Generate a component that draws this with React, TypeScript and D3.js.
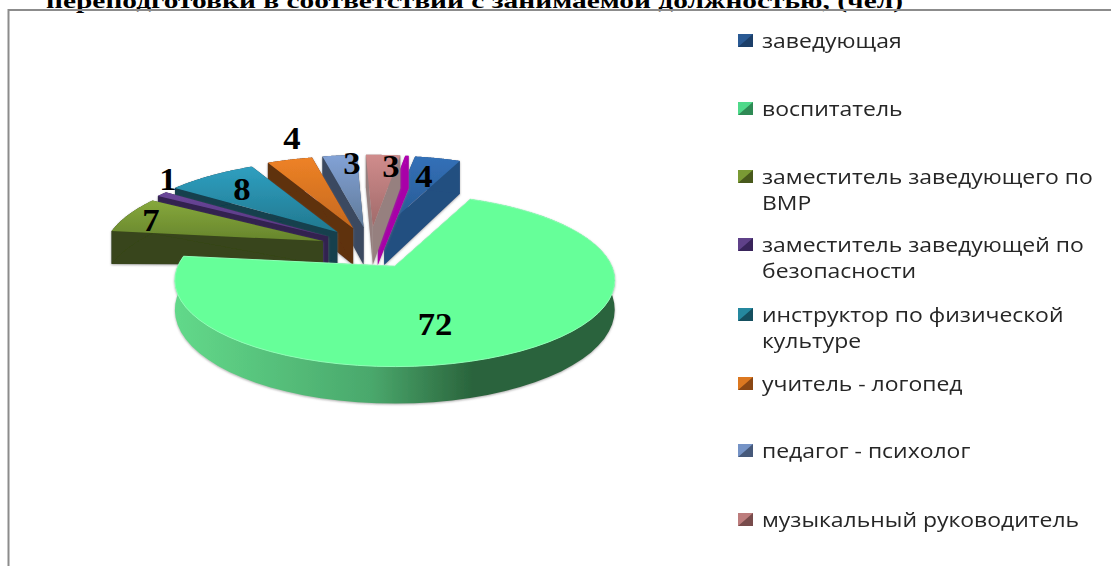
import React from "react";
import * as d3 from "d3";

const categories = [
  "заведующая",
  "воспитатель",
  "заместитель заведующего по|ВМР",
  "заместитель заведующей по|безопасности",
  "инструктор по физической|культуре",
  "учитель - логопед",
  "педагог - психолог",
  "музыкальный руководитель",
];
// last value is the thin magenta slice that has no legend entry
const values = [4, 72, 7, 1, 8, 4, 3, 3, 0.3];
const labels = ["4", "72", "7", "1", "8", "4", "3", "3"];
const topLight = ["#3270b8", "#66ff99", "#86a83c", "#6a4699", "#2f9fc0", "#ee8226", "#82a2d6", "#d08c8c", "#b000b0"];
const topDark = ["#28598f", "#66ff99", "#67852c", "#56377f", "#21788f", "#c4681e", "#607a99", "#a06a6a", "#a000a0"];
const wallColors = ["#234f80", "#2a643c", "#37451a", "#32204f", "#123f4e", "#5f3010", "#3b4a60", "#96807f", "#a800a8"];
const legendColors = ["#2a5a94", "#4fd98a", "#7a9a34", "#5f4189", "#25889f", "#dc7820", "#7593c6", "#bd7d7d"];
const legendDark = ["#1c3f69", "#2f8a55", "#48591c", "#38245a", "#154f5f", "#8a4714", "#46597a", "#784c4c"];
const legendY = [41, 109, 177, 245, 315, 384, 451, 520];
const labelPos = [
  [424, 187], [435, 335], [151, 231], [168, 190], [242, 200], [292, 149], [352, 174], [391, 177],
];
const drawOrder = [0, 8, 7, 6, 5, 4, 3, 2, 1];

const W = 1111;
const H = 566;
const RX = 217;
const RY = 84;
const PERSP = 0.163;
const START = (9.5 * Math.PI) / 180;

const pieData = d3
  .pie<number>()
  .sort(null)
  .startAngle(START)
  .endAngle(START + Math.PI * 2)(values);

const project = (a: number) => {
  const w = 1 + PERSP * Math.cos(a);
  return [(RX * Math.sin(a)) / w, (-RY * Math.cos(a)) / w];
};

function Slice({ d, i }: { d: d3.PieArcDatum<number>; i: number }) {
  const mid = (d.startAngle + d.endAngle) / 2;
  const ax = 370 + 50 * Math.sin(mid);
  const ay = 248 - 21 * Math.cos(mid);
  const isFront = i === 1;
  const floor = isFront ? ay + 30 : 265;
  const wallH = (a: number) => (isFront ? 28 + 9 * Math.max(0, -Math.cos(a)) : 33);
  const angles = d3.range(0, 61).map((k) => d.startAngle + ((d.endAngle - d.startAngle) * k) / 60);
  const rim = angles.map((a) => {
    const [x, y] = project(a);
    return [ax + x, ay + y, wallH(a)];
  });
  const line = d3.line();
  const top = line([[ax, ay], ...rim.map((p) => [p[0], p[1]] as [number, number])]) + "Z";
  const first = rim[0];
  const last = rim[rim.length - 1];
  const wallA = line([[ax, ay], [first[0], first[1]], [first[0], first[1] + first[2]], [ax, floor]]) + "Z";
  const wallB = line([[ax, ay], [last[0], last[1]], [last[0], last[1] + last[2]], [ax, floor]]) + "Z";
  const outer =
    line([
      ...rim.map((p) => [p[0], p[1]] as [number, number]),
      ...rim.slice().reverse().map((p) => [p[0], p[1] + p[2]] as [number, number]),
    ]) + "Z";
  return (
    <g filter="url(#soft)">
      <path d={wallA} fill={wallColors[i]} />
      <path d={wallB} fill={wallColors[i]} />
      <path d={outer} fill={isFront ? "url(#greenWall)" : wallColors[i]} />
      <path d={top} fill={isFront ? topLight[i] : `url(#top${i})`} stroke={isFront ? "#8dffb5" : "none"} strokeWidth={isFront ? 1 : 0} />
    </g>
  );
}

export default function App() {
  return (
    <svg
      width={W}
      height={H}
      viewBox={`0 0 ${W} ${H}`}
      style={{ position: "absolute", left: 0, top: 0, background: "#fff" }}
    >
      <defs>
        <linearGradient id="greenWall" gradientUnits="userSpaceOnUse" x1="175" x2="612" y1="0" y2="0">
          <stop offset="0" stopColor="#62d98a" />
          <stop offset="0.45" stopColor="#4aa86c" />
          <stop offset="0.68" stopColor="#2a643c" />
          <stop offset="1" stopColor="#2a643c" />
        </linearGradient>
        {values.map((_, i) => (
          <linearGradient key={i} id={`top${i}`} x1="0" x2="0" y1="0" y2="1">
            <stop offset="0" stopColor={topLight[i]} />
            <stop offset="1" stopColor={topDark[i]} />
          </linearGradient>
        ))}
        <filter id="soft" x="-10%" y="-10%" width="120%" height="130%">
          <feDropShadow dx="0" dy="1" stdDeviation="1.2" floodColor="#777" floodOpacity="0.6" />
        </filter>
        <filter id="blurText" x="-2%" y="-20%" width="104%" height="140%">
          <feGaussianBlur stdDeviation="0.45" />
        </filter>
      </defs>

      <text x={46} y={8} fontFamily="Liberation Serif" fontWeight="bold" fontSize={22} textLength={857} lengthAdjust="spacingAndGlyphs">
        переподготовки в соответствии с занимаемой должностью, (чел)
      </text>
      <path d={`M1111,10H8.5V566`} fill="none" stroke="#8c8c8c" strokeWidth={2} />

      {drawOrder.map((s) => (
        <Slice key={s} d={pieData[s]} i={s} />
      ))}

      {labelPos.map((p, i) => (
        <text
          key={i}
          transform={`translate(${p[0]},${p[1]}) scale(1.12,1)`}
          textAnchor="middle"
          fontFamily="Liberation Serif"
          fontWeight="bold"
          fontSize={31}
          fill="#000"
        >
          {labels[i]}
        </text>
      ))}

      {categories.map((c, i) => {
        const parts = c.split("|");
        const y0 = legendY[i] - 7;
        return (
          <g key={c}>
            <rect x={738} y={y0} width={15} height={13} fill={legendColors[i]} />
            <path
              d={d3.line()([[753, y0], [753, y0 + 13], [738, y0 + 13], [745, y0 + 7]]) + "Z"}
              fill={legendDark[i]}
            />
            {parts.map((t, j) => (
              <text
                key={t}
                transform={`translate(762,${legendY[i] + 7 + j * 26}) scale(1.147,1)`}
                fontFamily="Open Sans"
                fontSize={20}
                fill="#262626"
                filter="url(#blurText)"
              >
                {t}
              </text>
            ))}
          </g>
        );
      })}
    </svg>
  );
}
